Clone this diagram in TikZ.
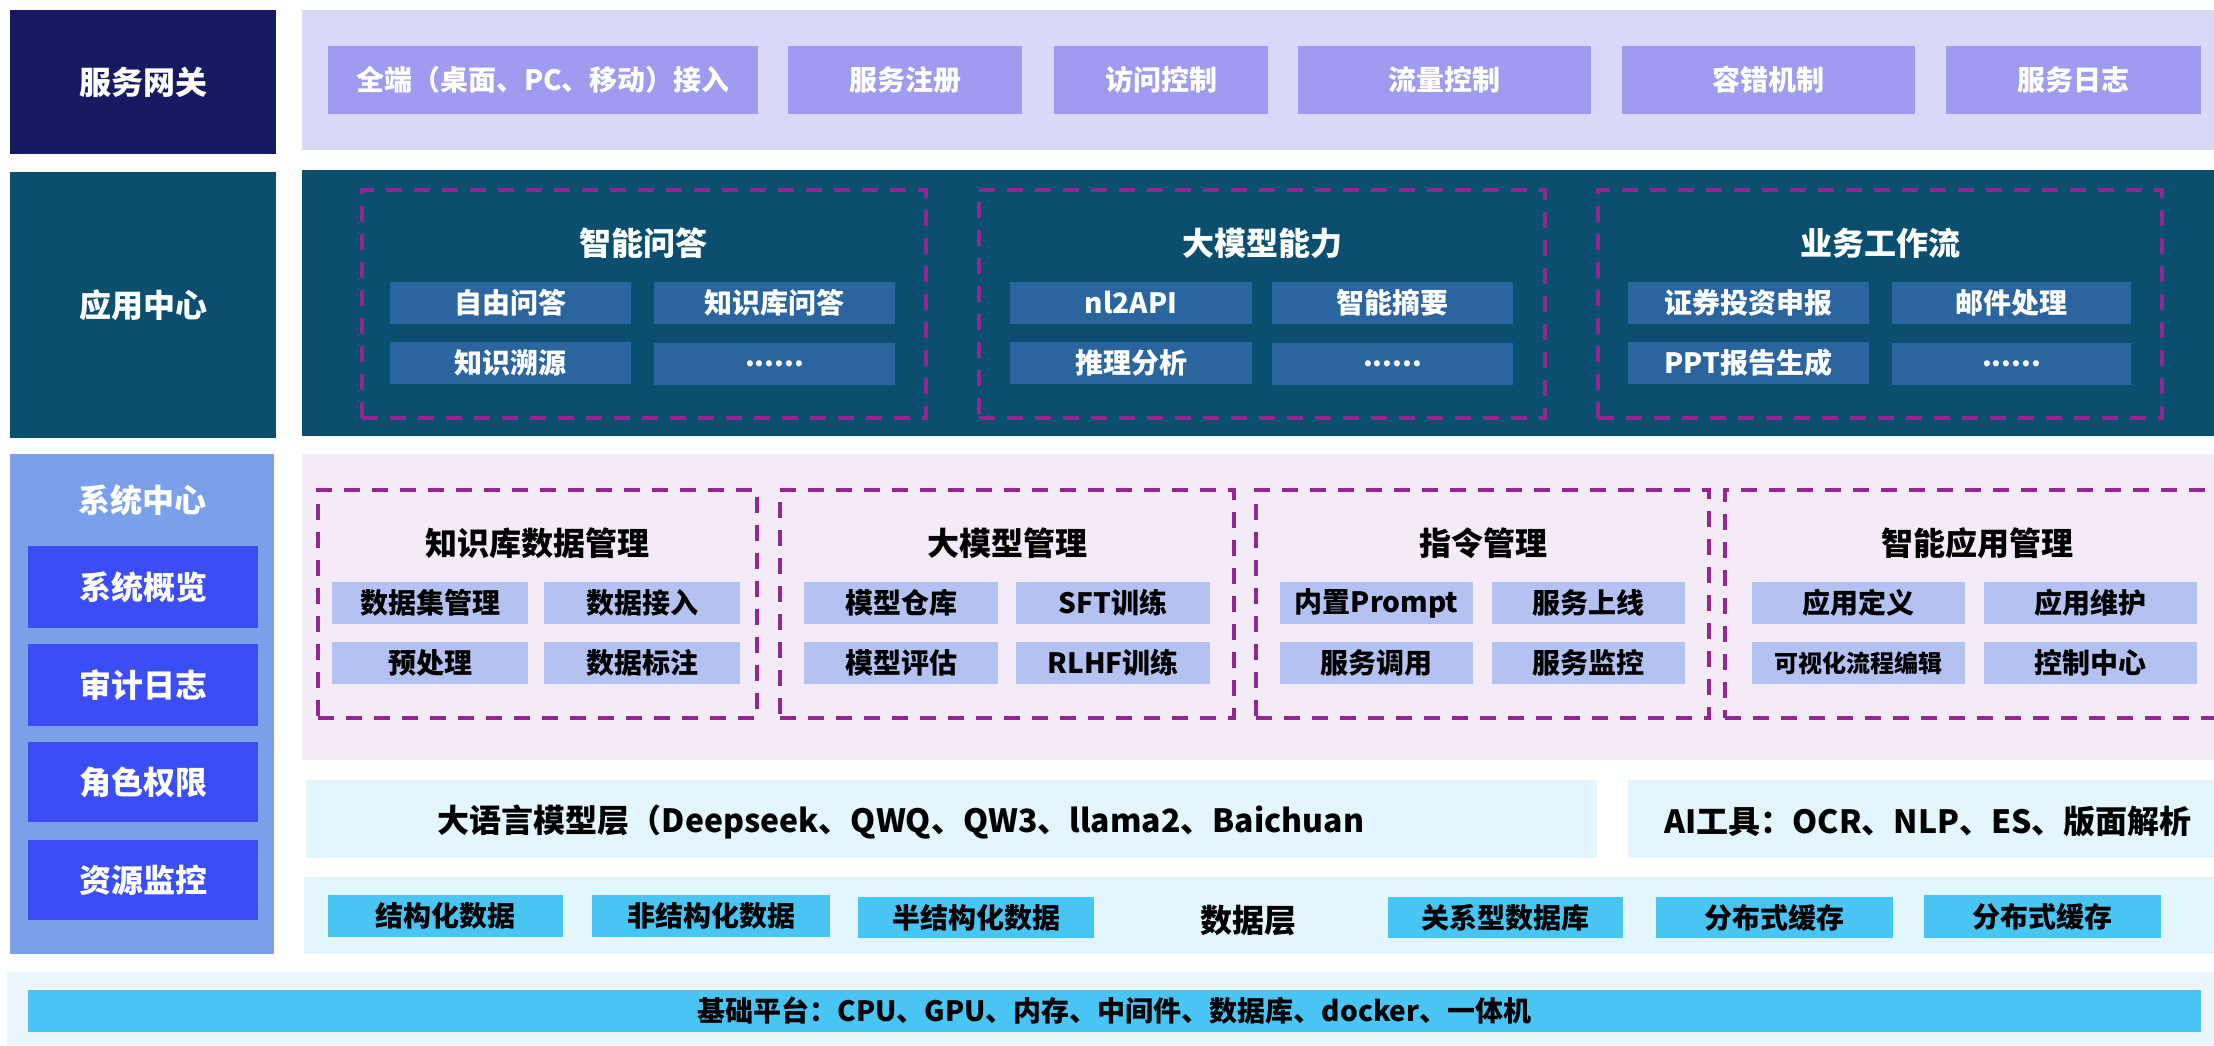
\documentclass[tikz,border=0pt]{standalone}
\usepackage{fontspec}
\setmainfont{Noto Sans CJK SC}
\definecolor{navy}{HTML}{171A60}
\definecolor{lav}{HTML}{DAD8F8}
\definecolor{gwitem}{HTML}{9E9BF0}
\definecolor{teal}{HTML}{0A4F6F}
\definecolor{appitem}{HTML}{2A65A0}
\definecolor{dpurple}{HTML}{93278F}
\definecolor{syscol}{HTML}{7BA0EA}
\definecolor{sysin}{HTML}{3B4DF7}
\definecolor{pinkbg}{HTML}{F4EAF8}
\definecolor{sysitem}{HTML}{B4C2F2}
\definecolor{ltblue}{HTML}{E3F5FD}
\definecolor{cyanitem}{HTML}{48C5F2}
\definecolor{basebg}{HTML}{EAF6FB}
\newcommand\mybox[7]{%
  \pgfmathsetmacro\mbw{(#5)-(#3)}%
  \pgfmathsetmacro\mbh{(#6)-(#4)}%
  \pgfmathsetmacro\mbx{((#3)+(#5))/2}%
  \pgfmathsetmacro\mby{((#4)+(#6))/2}%
  \node[#2,minimum width=\mbw pt,minimum height=\mbh pt] (#1) at (\mbx,\mby) {#7};%
}
\begin{document}
\begin{tikzpicture}[x=1pt,y=-1pt,
  every node/.style={inner sep=0pt,outer sep=0pt},
  big/.style={font=\bfseries\fontsize{32}{38}\selectfont},
  mid/.style={font=\bfseries\fontsize{28}{34}\selectfont},
  tiny/.style={font=\bfseries\fontsize{24}{30}\selectfont},
  gwlabel/.style={fill=navy,text=white,big},
  gwband/.style={fill=lav},
  gwbox/.style={fill=gwitem,text=white,mid},
  applabel/.style={fill=teal,text=white,big},
  appband/.style={fill=teal},
  appbox/.style={fill=appitem,text=white,mid},
  dbox/.style={draw=dpurple,line width=4pt,dash pattern=on 16pt off 12pt},
  wtitle/.style={text=white,big},
  btitle/.style={text=black,big},
  sysband/.style={fill=syscol},
  sysbox/.style={fill=sysin,text=white,big},
  pinkband/.style={fill=pinkbg},
  sbox/.style={fill=sysitem,text=black,mid},
  lband/.style={fill=ltblue},
  cbox/.style={fill=cyanitem,text=black,mid},
  baseband/.style={fill=basebg}
]
\useasboundingbox (0,0) rectangle (2214,1045);
\fill[white] (0,0) rectangle (2214,1045);
\begin{scope}
\clip (0,0) rectangle (2214,1045);
% ---------- gateway ----------
\mybox{gwl}{gwlabel}{10}{10}{276}{154}{服务网关}
\mybox{gwb}{gwband}{302}{10}{2214}{150}{}
\mybox{g1}{gwbox}{328}{46}{758}{114}{全端（桌面、PC、移动）接入}
\mybox{g2}{gwbox}{788}{46}{1022}{114}{服务注册}
\mybox{g3}{gwbox}{1054}{46}{1268}{114}{访问控制}
\mybox{g4}{gwbox}{1298}{46}{1591}{114}{流量控制}
\mybox{g5}{gwbox}{1622}{46}{1915}{114}{容错机制}
\mybox{g6}{gwbox}{1946}{46}{2201}{114}{服务日志}
% ---------- application center ----------
\mybox{apl}{applabel}{10}{172}{276}{438}{应用中心}
\mybox{apb}{appband}{302}{170}{2214}{436}{}
\mybox{A1}{dbox}{362}{190}{926}{418}{}
\node[wtitle] (A1t) at (643.5,243) {智能问答};
\mybox{a11}{appbox}{390}{282}{631}{324}{自由问答}
\mybox{a12}{appbox}{654}{282}{895}{324}{知识库问答}
\mybox{a13}{appbox}{390}{342}{631}{384}{知识溯源}
\mybox{a14}{appbox}{654}{343}{895}{385}{......}
\mybox{A2}{dbox}{979}{190}{1545}{418}{}
\node[wtitle] (A2t) at (1262,243) {大模型能力};
\mybox{a21}{appbox}{1010}{282}{1252}{324}{nl2API}
\mybox{a22}{appbox}{1272}{282}{1513}{324}{智能摘要}
\mybox{a23}{appbox}{1010}{342}{1252}{384}{推理分析}
\mybox{a24}{appbox}{1272}{343}{1513}{385}{......}
\mybox{A3}{dbox}{1598}{190}{2162}{418}{}
\node[wtitle] (A3t) at (1880,243) {业务工作流};
\mybox{a31}{appbox}{1628}{282}{1869}{324}{证券投资申报}
\mybox{a32}{appbox}{1892}{282}{2131}{324}{邮件处理}
\mybox{a33}{appbox}{1628}{342}{1869}{384}{PPT报告生成}
\mybox{a34}{appbox}{1892}{343}{2131}{385}{......}
% ---------- system center ----------
\mybox{syc}{sysband}{10}{454}{274}{954}{}
\node[text=white,big] (sycl) at (142,500) {系统中心};
\mybox{s1}{sysbox}{28}{546}{258}{628}{系统概览}
\mybox{s2}{sysbox}{28}{644}{258}{726}{审计日志}
\mybox{s3}{sysbox}{28}{742}{258}{822}{角色权限}
\mybox{s4}{sysbox}{28}{840}{258}{920}{资源监控}
\mybox{pk}{pinkband}{302}{454}{2214}{760}{}
\mybox{S1}{dbox}{318}{490}{757}{718}{}
\node[btitle] (S1t) at (537.5,543) {知识库数据管理};
\mybox{b11}{sbox}{332}{582}{528}{624}{数据集管理}
\mybox{b12}{sbox}{544}{582}{740}{624}{数据接入}
\mybox{b13}{sbox}{332}{642}{528}{684}{预处理}
\mybox{b14}{sbox}{544}{642}{740}{684}{数据标注}
\mybox{S2}{dbox}{780}{490}{1234}{718}{}
\node[btitle] (S2t) at (1007,543) {大模型管理};
\mybox{b21}{sbox}{804}{582}{998}{624}{模型仓库}
\mybox{b22}{sbox}{1016}{582}{1210}{624}{SFT训练}
\mybox{b23}{sbox}{804}{642}{998}{684}{模型评估}
\mybox{b24}{sbox}{1016}{642}{1210}{684}{RLHF训练}
\mybox{S3}{dbox}{1256}{490}{1709}{718}{}
\node[btitle] (S3t) at (1483,543) {指令管理};
\mybox{b31}{sbox}{1280}{582}{1473}{624}{内置Prompt}
\mybox{b32}{sbox}{1492}{582}{1685}{624}{服务上线}
\mybox{b33}{sbox}{1280}{642}{1473}{684}{服务调用}
\mybox{b34}{sbox}{1492}{642}{1685}{684}{服务监控}
\mybox{S4}{dbox}{1725}{490}{2229}{718}{}
\node[btitle] (S4t) at (1977,543) {智能应用管理};
\mybox{b41}{sbox}{1752}{582}{1965}{624}{应用定义}
\mybox{b42}{sbox}{1984}{582}{2197}{624}{应用维护}
\mybox{b43}{sbox,tiny}{1752}{642}{1965}{684}{可视化流程编辑}
\mybox{b44}{sbox}{1984}{642}{2197}{684}{控制中心}
% ---------- LLM layer / AI tools ----------
\mybox{llm}{lband}{306}{780}{1597}{858}{}
\node[btitle] (llmt) at (901,822) {大语言模型层（Deepseek、QWQ、QW3、llama2、Baichuan};
\mybox{ai}{lband}{1628}{780}{2214}{858}{}
\node[btitle] (ait) at (1928,822) {AI工具：OCR、NLP、ES、版面解析};
% ---------- data layer ----------
\mybox{dl}{lband}{304}{877}{2214}{954}{}
\mybox{d1}{cbox}{328}{895}{563}{937}{结构化数据}
\mybox{d2}{cbox}{592}{895}{830}{937}{非结构化数据}
\mybox{d3}{cbox}{858}{897}{1094}{938}{半结构化数据}
\node[btitle] (dlt) at (1248,921) {数据层};
\mybox{d4}{cbox}{1388}{897}{1623}{938}{关系型数据库}
\mybox{d5}{cbox}{1656}{897}{1893}{938}{分布式缓存}
\mybox{d6}{cbox}{1924}{895}{2161}{938}{分布式缓存}
% ---------- base platform ----------
\mybox{bb}{baseband}{7}{972}{2214}{1045}{}
\mybox{bp}{cbox}{28}{990}{2201}{1032}{基础平台：CPU、GPU、内存、中间件、数据库、docker、一体机}
\end{scope}
\end{tikzpicture}
\end{document}
